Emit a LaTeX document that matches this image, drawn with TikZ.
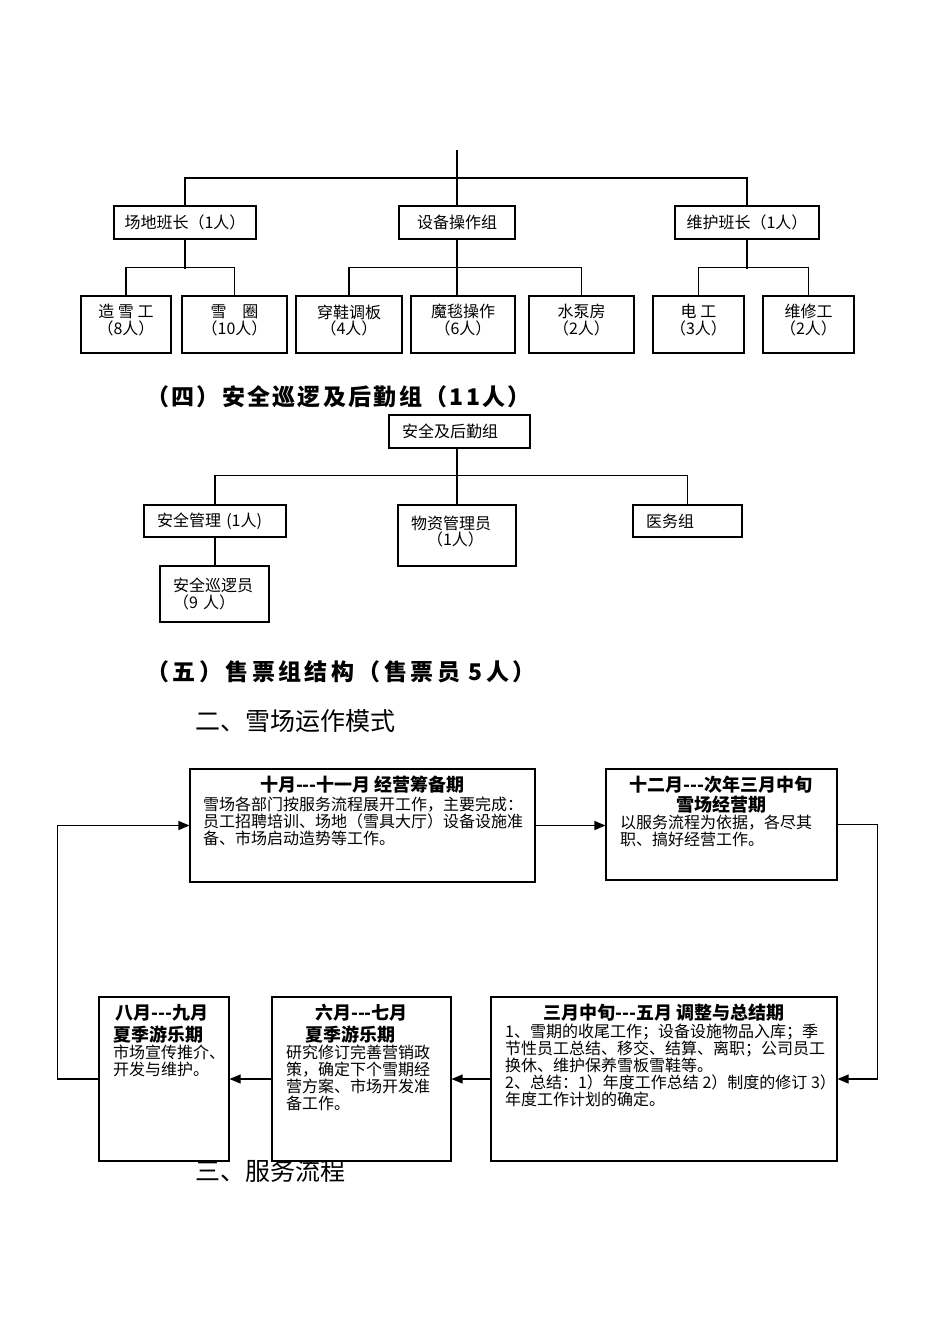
\documentclass[tikz,border=0pt]{standalone}
\usepackage{fontspec}
\usepackage{tikz}
\usetikzlibrary{arrows.meta, positioning, calc}
\newfontfamily\cjk{Noto Sans CJK SC}

\begin{document}
\begin{tikzpicture}[x=1pt, y=-1pt,
    box/.style={draw, line width=1.1pt, inner sep=0pt, align=center, font=\cjk\fontsize{16}{16.5}\selectfont},
    headbox/.style={box, minimum height=33pt},
    leaf/.style={box, minimum height=57pt, text depth=10pt},
    lbox/.style={box, align=left, inner xsep=13pt},
    conn/.style={line width=1.1pt},
    arr/.style={line width=1.1pt, -{Triangle[length=11pt,width=9pt]}},
    flow/.style={draw, line width=1.1pt, fill=white, inner sep=0pt},
    ttl/.style={font=\cjk\bfseries\fontsize{18}{20}\selectfont, inner sep=0pt, align=center},
    txt/.style={font=\cjk\fontsize{16}{17}\selectfont, inner sep=0pt, align=left, anchor=north west},
    sect/.style={font=\cjk\bfseries\fontsize{23}{26}\selectfont, inner sep=0pt, anchor=west},
    part/.style={font=\cjk\fontsize{25}{27}\selectfont, inner sep=0pt, anchor=west}]
    \useasboundingbox (0,0) rectangle (950,1344);

    % Organigramma operativo
    \coordinate (root) at (457,150);
    \coordinate (bus) at (457,178);
    \node[headbox, minimum width=142pt] (changdi) at (185,222.5) {场地班长（1人）};
    \node[headbox, minimum width=116pt] (shebei) at (457,222.5) {设备操作组};
    \node[headbox, minimum width=144pt] (weihu) at (747,222.5) {维护班长（1人）};
    \foreach \n/\x/\w/\l/\r in {zxg/126/90/造\ 雪\ 工/8, xq/234.5/105/雪\quad 圈/10,
        cx/349/106/穿鞋调板/4, mt/463/104/魔毯操作/6, sb/581.5/105/水泵房/2,
        dg/698.5/91/电\ 工/3, wx/808.5/91/维修工/2} {
        \node[leaf, minimum width=\w pt] (\n) at (\x,324.5) {\l\\（\r{}人）};
    }
    \draw[conn] (root) -- (shebei.north);
    \draw[conn] (changdi.north) |- (bus) -| (weihu.north);
    \draw[conn] (changdi.south) -- ++(0,29);
    \draw[conn] (zxg.north) -- ++(0,-28) -| (xq.north);
    \draw[conn] (shebei.south) -- (shebei.south |- mt.north);
    \draw[conn] (cx.north) -- ++(0,-28) -| (sb.north);
    \draw[conn] (weihu.south) -- ++(0,29);
    \draw[conn] (dg.north) -- ++(0,-28) -| (wx.north);

    % Sicurezza e logistica
    \node[sect, font=\cjk\bfseries\fontsize{23}{26}\selectfont\addfontfeature{LetterSpace=10}] (t4) at (146,397) {（四）安全巡逻及后勤组（11人）};
    \node[lbox, text width=115pt, minimum height=33pt] (anquan) at (459.5,431.5) {安全及后勤组};
    \node[lbox, text width=116pt, minimum height=32pt] (guanli) at (215,521) {安全管理 (1人)};
    \node[lbox, text width=92pt, minimum height=61pt, text depth=26pt] (wuzi) at (457,535.5) {物资管理员\\\hspace*{1em}（1人）};
    \node[lbox, text width=83pt, minimum height=32pt] (yiwu) at (687.5,521) {医务组};
    \node[lbox, text width=83pt, minimum height=56pt] (xunluo) at (214.5,594) {安全巡逻员\\（9 人）};
    \draw[conn] (anquan.south -| wuzi.north) -- (wuzi.north);
    \draw[conn] (guanli.north) -- ++(0,-29) -| (yiwu.north);
    \draw[conn] (guanli.south) -- (guanli.south |- xunluo.north);

    % Titoli
    \node[sect, font=\cjk\bfseries\fontsize{23}{26}\selectfont\addfontfeature{LetterSpace=15}] (t5) at (146,672) {（五）售票组结构（售票员 5人）};
    \node[part] (p2) at (195,721) {二、雪场运作模式};
    \node[part] (p3) at (195,1171) {三、服务流程};

    % Ciclo operativo
    \node[flow, minimum width=345pt, minimum height=113pt] (A) at (362.5,825.5) {};
    \node[flow, minimum width=231pt, minimum height=111pt] (B) at (721.5,824.5) {};
    \node[flow, minimum width=346pt, minimum height=164pt] (C) at (664,1079) {};
    \node[flow, minimum width=179pt, minimum height=164pt] (liu) at (361.5,1079) {};
    \node[flow, minimum width=130pt, minimum height=164pt] (ba) at (164,1079) {};

    \node[ttl] (At) at (362.5,785) {十月-{}-{}-十一月 经营筹备期};
    \node[txt] (Ab) at (203,797) {雪场各部门按服务流程展开工作，主要完成：\\员工招聘培训、场地（雪具大厅）设备设施准\\备、市场启动造势等工作。};
    \node[ttl] (Bt) at (721,795) {十二月-{}-{}-次年三月中旬\\雪场经营期};
    \node[txt] (Bb) at (620,815) {以服务流程为依据，各尽其\\职、搞好经营工作。};
    \node[ttl] (Ct) at (664,1013) {三月中旬-{}-{}-五月 调整与总结期};
    \node[txt] (Cb) at (505,1024) {1、雪期的收尾工作；设备设施物品入库；季\\节性员工总结、移交、结算、离职；公司员工\\换休、维护保养雪板雪鞋等。\\2、总结：1）年度工作总结 2）制度的修订 3）\\年度工作计划的确定。};
    \node[ttl] (Lt) at (361.5,1013) {六月-{}-{}-七月};
    \node[ttl, anchor=west] (Lt2) at (305,1035) {夏季游乐期};
    \node[txt] (Lb) at (286,1045) {研究修订完善营销政\\策，确定下个雪期经\\营方案、市场开发准\\备工作。};
    \node[ttl] (Et) at (162,1013) {八月-{}-{}-九月};
    \node[ttl, anchor=west] (Et2) at (113,1035) {夏季游乐期};
    \node[txt] (Eb) at (113,1045) {市场宣传推介、\\开发与维护。};

    \draw[arr] (A.east) -- (A.east -| B.west);
    \draw[arr] (B.east) -- ++(40,0) |- (C.east);
    \draw[arr] (C.west) -- (C.west -| liu.east);
    \draw[arr] (liu.west) -- (liu.west -| ba.east);
    \draw[arr] (ba.west) -- ++(-41,0) |- (A.west);
\end{tikzpicture}
\end{document}
